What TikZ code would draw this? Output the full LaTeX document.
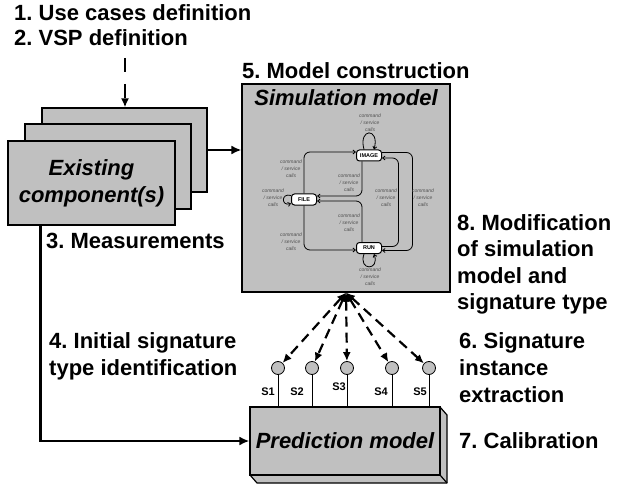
\documentclass[tikz,border=0pt]{standalone}
\usepackage{fontspec}
\setmainfont{Liberation Sans}
\usetikzlibrary{arrows.meta,calc}
\definecolor{boxgrey}{RGB}{192,192,192}
\definecolor{lblgrey}{RGB}{80,80,80}
\frenchspacing
\begin{document}
\begin{tikzpicture}[x=1pt,y=-1pt,
  lbl/.style={font=\fontsize{22}{27}\selectfont\bfseries, anchor=base west, align=left, inner sep=0pt},
  ttl/.style={font=\fontsize{22}{27}\selectfont\bfseries\itshape, align=center, inner sep=0pt},
  gbox/.style={draw, fill=boxgrey, line width=1.2pt, inner sep=0pt},
  state/.style={draw, fill=white, rounded corners=3pt, line width=1pt, font=\fontsize{5.5}{6}\selectfont\bfseries, minimum width=25pt, minimum height=11pt, inner sep=0pt},
  cs/.style={font=\fontsize{5}{7}\selectfont\itshape, text=lblgrey, align=center, inner sep=0pt},
  tr/.style={-{Straight Barb[length=2.5pt,width=4pt]}, line width=0.8pt, rounded corners=6pt},
  big/.style={-{Latex[length=10pt,width=9pt]}, line width=2.2pt},
  dsh/.style={{Latex[length=9pt,width=8pt]}-{Latex[length=9pt,width=8pt]}, line width=2.2pt, dash pattern=on 10pt off 6pt},
  sig/.style={circle, draw, fill=boxgrey, line width=0.8pt, minimum size=13pt, inner sep=0pt},
  slbl/.style={font=\fontsize{11}{12}\selectfont\bfseries, inner sep=0pt},
]
\useasboundingbox (0,0) rectangle (618,489);

% text labels (base anchor = baseline of the last line)
\node[lbl] (t1) at (14,21) {1. Use cases definition};
\node[lbl] (t2) at (14,46) {2. VSP definition};
\node[lbl] (t5) at (242,79) {5. Model construction};
\node[lbl] (t3) at (46,248) {3. Measurements};
\node[lbl] (t4) at (49,375) {4. Initial signature\\type identification};
\node[lbl] (t6) at (459,402) {6. Signature\\instance\\extraction};
\node[lbl] (t7) at (459,448) {7. Calibration};
\node[lbl, font=\fontsize{22}{26.5}\selectfont\bfseries] (t8) at (457,309.5) {8. Modification\\of simulation\\model and\\signature type};

% existing components stack
\node[gbox, minimum width=165pt, minimum height=84pt] (eb) at (124.5,150) {};
\node[gbox, minimum width=166pt, minimum height=85pt] (em) at (108,166.5) {};
\node[gbox, ttl, minimum width=167pt, minimum height=84pt] (ef) at (91.5,183) {Existing\\component(s)};

% simulation model
\node[gbox, minimum width=208pt, minimum height=208pt] (sim) at (346,188) {};
\node[ttl] (simt) at (346,98) {Simulation model};

% state machine
\node[state] (img) at (369,155.5) {IMAGE};
\node[state] (file) at (304,199.5) {FILE};
\node[state] (run) at (369,248) {RUN};

\draw[tr] (file.north) |- ($(img.west)+(0,-3.5)$);
\draw[tr] (file.south) |- ($(run.west)+(0,2)$);
\draw[tr] ($(img.south)+(-7,0)$) |- ($(file.east)+(0,-3.5)$);
\draw[tr] ($(run.north)+(-7,0)$) |- ($(file.east)+(0,1.5)$);
\draw[tr] ($(run.east)+(0,-1.5)$) -- ++(16.5,0) |- ($(img.east)+(0,2.5)$);
\draw[tr] ($(img.east)+(0,-3)$) -- ++(30.5,0) |- ($(run.east)+(0,2.5)$);
\draw[tr] ($(img.north)+(-5,0)$) .. controls +(-6,-22) and +(6,-22) .. ($(img.north)+(5,0)$);
\draw[tr] ($(file.west)+(0,-4)$) .. controls +(-10,-3) and +(-10,3) .. ($(file.west)+(0,4)$);
\draw[tr] ($(run.south)+(-5,0)$) .. controls +(-6,17) and +(6,17) .. ($(run.south)+(5,0)$);

\node[cs] (l1) at (370,123) {command\\/ service\\calls};
\node[cs] (l2) at (273,198) {command\\/ service\\calls};
\node[cs] (l3) at (291,169) {command\\/ service\\calls};
\node[cs] (l4) at (291,242) {command\\/ service\\calls};
\node[cs] (l5) at (349,183) {command\\/ service\\calls};
\node[cs] (l6) at (349,223) {command\\/ service\\calls};
\node[cs] (l7) at (386,198) {command\\/ service\\calls};
\node[cs] (l8) at (423,198) {command\\/ service\\calls};
\node[cs] (l9) at (370,277) {command\\/ service\\calls};

% prediction model (3D box)
\fill[boxgrey] (440,407) -- (447,415) -- (447,483) -- (257,483) -- (250,475) -- (440,475) -- cycle;
\draw[line width=1.2pt, line join=round] (440,407) -- (447,415) -- (447,483) -- (257,483) -- (250,475);
\draw[line width=1.2pt] (440,475) -- (447,483);
\node[gbox, ttl, minimum width=190pt, minimum height=68pt] (pred) at (345,441) {Prediction model};

% signature circles
\node[sig] (c1) at (278,368) {};
\node[sig] (c2) at (312,368) {};
\node[sig] (c3) at (347,368) {};
\node[sig] (c4) at (392,368) {};
\node[sig] (c5) at (429,368) {};
\foreach \i in {1,...,5} {
  \draw[line width=0.8pt] (c\i) -- (c\i |- pred.north);
}
\node[slbl] (s1) at (268,392) {S1};
\node[slbl] (s2) at (297,392) {S2};
\node[slbl] (s3) at (339,387) {S3};
\node[slbl] (s4) at (381,392) {S4};
\node[slbl] (s5) at (420,392) {S5};

% connectors
\coordinate (sb) at (sim.south);
\foreach \i in {1,...,5} {
  \draw[dsh] (sb) -- (c\i);
}
\coordinate (vsp) at (125,32);
\draw[-{Latex[length=9pt,width=8pt]}, line width=2pt, dash pattern=on 14pt off 12pt] (vsp) -- (vsp |- eb.north);
\draw[big] (eb.east) -- (eb.east -| sim.west);
\coordinate (ms) at ([xshift=33pt]ef.south west);
\draw[big] (ms) |- (pred.west);
\end{tikzpicture}
\end{document}
